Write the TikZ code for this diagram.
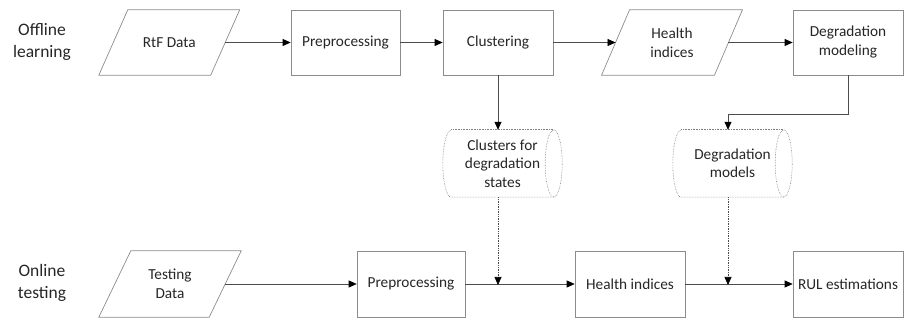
\documentclass[tikz,border=0pt]{standalone}
\usepackage{fontspec}
\setmainfont{Carlito}
\usetikzlibrary{arrows.meta,calc}
\begin{document}
\begin{tikzpicture}[x=1pt,y=1pt,
  txt/.style={align=center, inner sep=0pt, text=black!85, font=\fontsize{15.3}{19}\selectfont},
  box/.style={txt, draw=black!45, line width=0.7pt, minimum width=#1},
  parabox/.style={txt, minimum width=#1},
  toprow/.style={minimum height=65pt},
  botrow/.style={minimum height=66pt},
  cylbox/.style={txt, minimum width=119pt, minimum height=67pt, font=\fontsize{15.3}{18.4}\selectfont},
  outline/.style={draw=black!45, line width=0.7pt},
  cylline/.style={draw=black!50, line width=0.6pt, densely dotted},
  arr/.style={draw=black!70, line width=0.7pt, -{Triangle[length=8pt,width=7pt,color=black]}},
  darr/.style={arr, densely dotted},
  side/.style={align=center, inner sep=0pt, text=black!85, font=\fontsize{17.5}{22}\selectfont}
]
\useasboundingbox (0,0) rectangle (909,320);

% side labels
\node[side] (offl) at (42,278) {Offline\\learning};
\node[side] (onl) at (42,37) {Online\\testing};

% top row
\node[parabox=111.5, toprow] (rtf) at (169.25,277.5) {RtF Data};
\node[box=109, toprow] (pre1) at (345.5,277.5) {Preprocessing};
\node[box=110, toprow] (clu) at (498,277.5) {Clustering};
\node[parabox=112.5, toprow] (hi1) at (672,277.5) {Health\\indices};
\node[box=110, toprow] (dm) at (848,277.5) {Degradation\\modeling};

% cylinders
\node[cylbox] (cyl1) at (502.5,156.5) {Clusters for\\degradation\\states};
\node[cylbox] (cyl2) at (732.5,156.5) {Degradation\\models};

% bottom row
\node[parabox=110, botrow] (td) at (170,36) {Testing\\Data};
\node[box=108, botrow] (pre2) at (411,36) {Preprocessing};
\node[box=110, botrow] (hi2) at (630,36) {Health indices};
\node[box=110, botrow] (rul) at (848,36) {RUL estimations};

% parallelogram outlines
\foreach \n/\s in {rtf/14.5, hi1/14, td/16} {
  \draw[outline] ($(\n.south west)+(-\s,0)$) -- ($(\n.south east)+(-\s,0)$)
    -- ($(\n.north east)+(\s,0)$) -- ($(\n.north west)+(\s,0)$) -- cycle;
}

% cylinder outlines
\foreach \n in {cyl1, cyl2} {
  \draw[cylline] ($(\n.north west)+(8.5,0)$) -- ($(\n.north east)+(-8.5,0)$);
  \draw[cylline] ($(\n.east)+(-8.5,0)$) ellipse [x radius=8.5, y radius=33.5];
  \draw[cylline] ($(\n.south east)+(-8.5,0)$) -- ($(\n.south west)+(8.5,0)$)
    arc[start angle=270, end angle=90, x radius=8.5, y radius=33.5];
}

% connectors top row
\draw[arr] (rtf.east) -- (pre1.west);
\draw[arr] (pre1.east) -- (clu.west);
\draw[arr] (clu.east) -- (hi1.west);
\draw[arr] (hi1.east) -- (dm.west);

% to cylinders
\coordinate (c1in) at (clu.south |- cyl1.north);
\coordinate (c2in) at ($(cyl2.north)+(-4.5,0)$);
\draw[arr] (clu.south) -- (c1in);
\draw[arr] (dm.south) -- ++(0,-39) -| (c2in);

% bottom row
\draw[arr] (td.east) -- (pre2.west);
\draw[arr] (pre2.east) -- (hi2.west);
\draw[arr] (hi2.east) -- (rul.west);

% dotted from cylinders
\coordinate (c1out) at (c1in |- cyl1.south);
\coordinate (c2out) at (c2in |- cyl2.south);
\coordinate (j1) at ($(c1in |- pre2.east)+(0,-1)$);
\coordinate (j2) at ($(c2in |- hi2.east)+(0,-1)$);
\draw[darr] (c1out) -- (j1);
\draw[darr] (c2out) -- (j2);
\end{tikzpicture}
\end{document}
